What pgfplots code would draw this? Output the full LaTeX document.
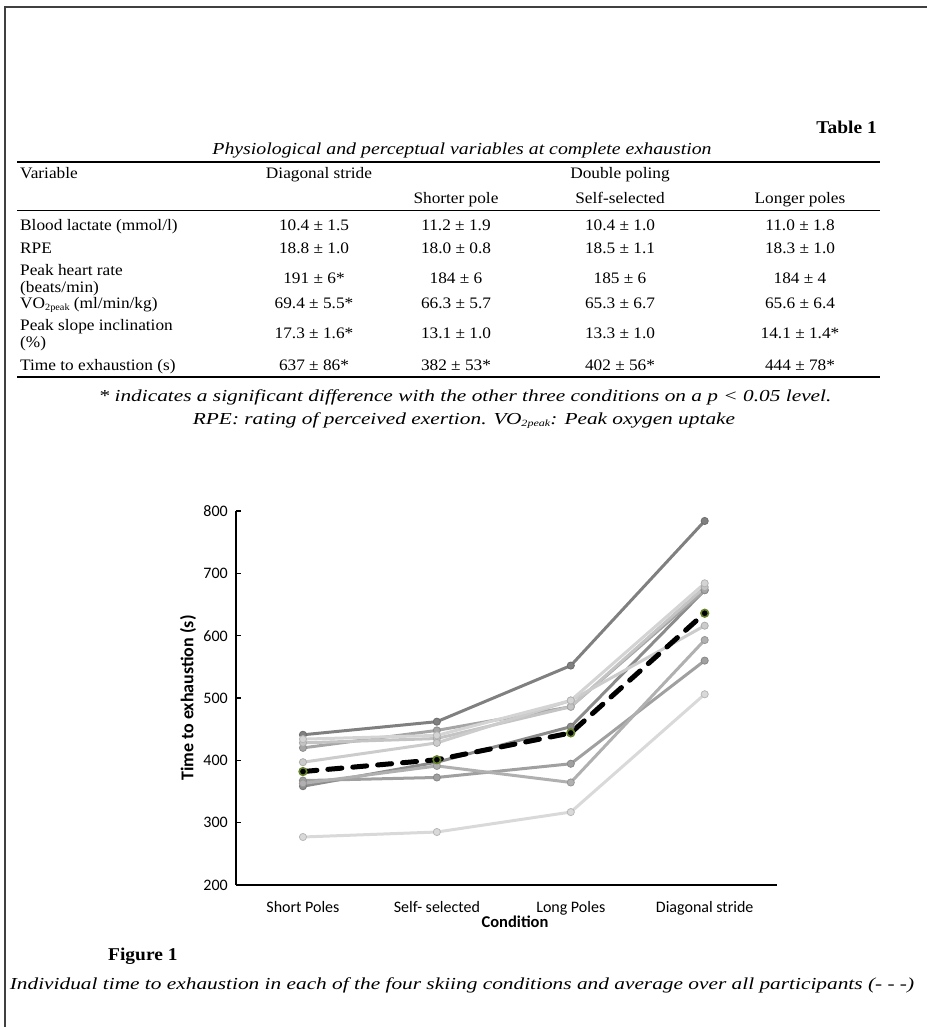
\documentclass[border=0pt]{standalone}
\usepackage{pgfplots}
\pgfplotsset{compat=1.18}
\usepackage{fontspec}
\setmainfont[FakeStretch=1.08]{Liberation Serif}
\newfontfamily\itA{Liberation Serif Italic}[FakeStretch=1.27]
\newfontfamily\itB{Liberation Serif Italic}[FakeStretch=1.18]
\newfontfamily\calib{Carlito}
\newcommand\tabf{\fontsize{16}{17}\selectfont}
\newcommand\itf{\fontsize{16.8}{18}\selectfont}
\newcommand\Tx[4][]{\node[anchor=base,inner sep=0pt,font=\tabf,#1] at (#2,{1027-#3}) {#4};}
\newcommand\subx[1]{{\fontsize{9.5}{9.5}\selectfont\raisebox{-2pt}{#1}}}
\definecolor{gA}{HTML}{808080}
\definecolor{gB}{HTML}{8C8C8C}
\definecolor{gC}{HTML}{B0B0B0}
\definecolor{gD}{HTML}{A0A0A0}
\definecolor{gE}{HTML}{A6A6A6}
\definecolor{gF}{HTML}{D4D4D4}
\definecolor{gG}{HTML}{C4C4C4}
\definecolor{gH}{HTML}{CCCCCC}
\definecolor{gI}{HTML}{D9D9D9}
\definecolor{ring}{RGB}{100,130,40}
\pgfplotsset{ind/.style={color=#1, line width=3pt, mark=*, mark size=3.6pt,
  mark options={fill=#1, draw=#1!85!black, line width=0.8pt}}}
\begin{document}
\begin{tikzpicture}[x=1pt,y=1pt]
\path[use as bounding box] (0,0) rectangle (927,1027);
\draw[line width=1.3pt, black!75] (5,0) -- (5,1020) -- (927,1020);
% table
\Tx[anchor=base east,font=\bfseries\fontsize{18}{18}\selectfont]{877}{134}{Table 1}
\Tx[font=\itB\itf]{462}{155}{Physiological and perceptual variables at complete exhaustion}
\draw[line width=1.3pt] (17,{1027-162}) -- (880,{1027-162});
\Tx[anchor=base west]{20}{179}{Variable}
\Tx{319}{179}{Diagonal stride}
\Tx{620}{179}{Double poling}
\Tx{456}{204}{Shorter pole}
\Tx{620}{204}{Self-selected}
\Tx{800}{204}{Longer poles}
\draw[line width=0.9pt] (17,{1027-210}) -- (880,{1027-210});
\Tx[anchor=base west]{20}{231}{Blood lactate (mmol/l)}
\Tx{314}{231}{10.4 ± 1.5}\Tx{456}{231}{11.2 ± 1.9}\Tx{620}{231}{10.4 ± 1.0}\Tx{800}{231}{11.0 ± 1.8}
\Tx[anchor=base west]{20}{254}{RPE}
\Tx{314}{254}{18.8 ± 1.0}\Tx{456}{254}{18.0 ± 0.8}\Tx{620}{254}{18.5 ± 1.1}\Tx{800}{254}{18.3 ± 1.0}
\Tx[anchor=base west]{20}{276}{Peak heart rate}
\Tx[anchor=base west]{20}{293}{(beats/min)}
\Tx{314}{284}{191 ± 6*}\Tx{456}{284}{184 ± 6}\Tx{620}{284}{185 ± 6}\Tx{800}{284}{184 ± 4}
\Tx[anchor=base west]{20}{309}{VO\subx{2peak} (ml/min/kg)}
\Tx{314}{309}{69.4 ± 5.5*}\Tx{456}{309}{66.3 ± 5.7}\Tx{620}{309}{65.3 ± 6.7}\Tx{800}{309}{65.6 ± 6.4}
\Tx[anchor=base west]{20}{331}{Peak slope inclination}
\Tx[anchor=base west]{20}{348}{(\%)}
\Tx{314}{339}{17.3 ± 1.6*}\Tx{456}{339}{13.1 ± 1.0}\Tx{620}{339}{13.3 ± 1.0}\Tx{800}{339}{14.1 ± 1.4*}
\Tx[anchor=base west]{20}{371}{Time to exhaustion (s)}
\Tx{314}{371}{637 ± 86*}\Tx{456}{371}{382 ± 53*}\Tx{620}{371}{402 ± 56*}\Tx{800}{371}{444 ± 78*}
\draw[line width=1.3pt] (17,{1027-377}) -- (880,{1027-377});
\Tx[font=\itA\itf]{465}{402}{* indicates a significant difference with the other three conditions on a p < 0.05 level.}
\Tx[font=\itA\itf]{464}{425}{RPE: rating of perceived exertion. VO\subx{2peak}: Peak oxygen uptake}
% chart
\begin{axis}[
  at={(236pt,142pt)}, anchor=south west,
  width=541pt, height=374pt, scale only axis,
  xmin=-0.5, xmax=3.54, ymin=200, ymax=800,
  axis x line=bottom, axis y line=left,
  axis line style={-},
  x axis line style={line width=1.8pt},
  y axis line style={line width=1.4pt},
  xtick={0,1,2,3},
  xticklabels={Short Poles,Self- selected,Long Poles,Diagonal stride},
  xtick style={draw=none},
  ytick={200,300,...,800},
  tick align=inside, major tick length=5pt,
  ytick style={line width=1.4pt, black},
  /pgf/number format/assume math mode=true,
  ticklabel style={font=\calib\fontsize{16}{16}\selectfont, inner sep=0pt},
  xticklabel style={anchor=base, yshift=-28pt},
  yticklabel style={anchor=east, xshift=-8pt},
  clip=false,
]
\addplot[ind=gA] coordinates {(0,441) (1,462) (2,552) (3,784)};
\addplot[ind=gB] coordinates {(0,358.5) (1,397) (2,454) (3,673)};
\addplot[ind=gD] coordinates {(0,367.5) (1,372.5) (2,394.5) (3,560)};
\addplot[ind=gC] coordinates {(0,363) (1,391) (2,364.5) (3,593)};
\addplot[ind=gE] coordinates {(0,420) (1,448) (2,486) (3,673)};
\addplot[ind=gG] coordinates {(0,428) (1,435) (2,486) (3,678)};
\addplot[ind=gH] coordinates {(0,397) (1,428) (2,496) (3,616)};
\addplot[ind=gF] coordinates {(0,434) (1,440) (2,496) (3,684)};
\addplot[ind=gI] coordinates {(0,277) (1,285) (2,317) (3,506)};
\addplot[black, line width=5pt, dash pattern=on 14pt off 11pt, line cap=round,
  mark=*, mark size=3.8pt, mark options={solid, fill=black, draw=ring, line width=1.6pt}]
  coordinates {(0,382) (1,401) (2,444) (3,636)};
\end{axis}
\node[font=\calib\bfseries\fontsize{18}{18}\selectfont, rotate=90, inner sep=0pt] at (188,{1027-698}) {Time to exhaustion (s)};
\node[font=\calib\bfseries\fontsize{16.5}{16.5}\selectfont, inner sep=0pt] at (515,{1027-922}) {Condition};
\Tx[anchor=base west,font=\bfseries\fontsize{18}{18}\selectfont]{108}{961}{Figure 1}
\Tx[font=\itA\itf]{462}{990}{Individual time to exhaustion in each of the four skiing conditions and average over all participants (- - -)}
\end{tikzpicture}
\end{document}
